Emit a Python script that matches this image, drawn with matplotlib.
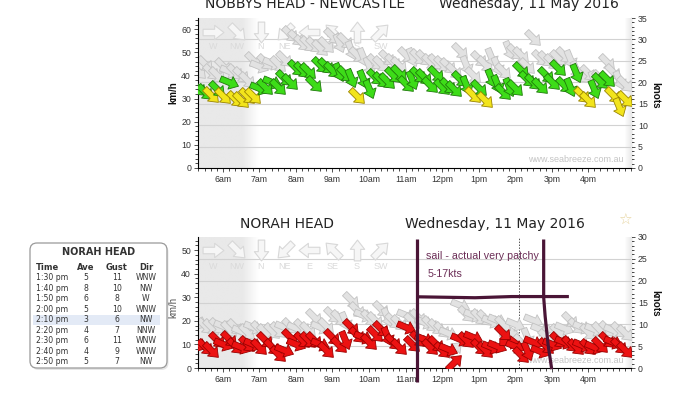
import numpy as np
import matplotlib.pyplot as plt
import matplotlib.ticker as mticker
from matplotlib.markers import MarkerStyle
from matplotlib.path import Path
from matplotlib.transforms import Affine2D
from matplotlib.patches import FancyBboxPatch, Rectangle
from matplotlib.colors import LinearSegmentedColormap

KN = 1.852  # km/h per knot

# readings every 10 minutes, 5:20 am to 5:00 pm
first_reading = 5 + 20 / 60
n_readings = 71
times = first_reading + np.arange(n_readings) / 6

# Nobbys Head - Newcastle (km/h)
nobbys_avg = [34.5, 33, 31.5, 34, 31, 37, 30, 29.5, 31, 31,
              34.5, 35, 37, 35, 39, 37, 43, 42.5, 42, 36.5,
              44.5, 44, 42.5, 41.5, 40.5, 39, 31, 38.5, 34, 39.5,
              38, 37.5, 40, 41, 36.5, 38, 40, 39.5, 36, 40.5,
              35, 35.5, 34, 38.5, 36, 31.5, 34.5, 29.5, 39, 36.5,
              33, 35, 34.5, 42.5, 38.5, 37, 35.5, 40, 37, 43,
              36, 35, 41, 31.5, 29.5, 34, 37.5, 38.5, 31.5, 26.5,
              30]
nobbys_gust = [42, 45, 41.5, 40, 44, 42, 41.5, 40, 38, 46.5,
               44, 46, 45.5, 45, 47, 58, 56, 54, 53.5, 53,
               52, 53, 57, 54, 55, 51, 49, 48, 44, 46,
               45, 47.5, 46, 44.5, 49, 48, 48, 47.5, 46, 46,
               45, 44, 42, 50.5, 44.5, 40, 47, 45, 48, 44,
               42, 51, 50, 49, 44, 56, 47.5, 47, 46, 47.5,
               49, 47, 42.5, 40, 41, 38, 39, 46, 41.5, 38,
               36.5]
nobbys_dir = ('NW NW NW NW NW WNW NW NW NW NW '
              'WNW NW WNW NW NW NW NW NW NW NW '
              'NW NW NW NNW NW NNW NW NNW NNW NW '
              'NW NW NW NW NW NNW NW NW NW NW '
              'NW NW NW NW NNW NW NW NW NNW NNW '
              'NW NNW NW NW NW NW NW NW NW NW '
              'NW NNW NNW NW NW NNW NW NW NW NNW '
              'NW').split()

# Norah Head (km/h)
norah_avg = [10.3, 9, 7.5, 11.8, 10.3, 12.5, 9.5, 9, 10.3, 10.3,
             9, 11.8, 9, 6, 7.5, 13.2, 10.3, 11.8, 11.8, 11.8,
             10.3, 7.5, 13.2, 9.6, 11.8, 17.4, 14, 13.2, 11, 14.6,
             16.7, 13.5, 11, 8.9, 17.4, 10.3, 12.5, 12.5, 8.9, 10.3,
             7.5, 8.2, 2.5, 12.5, 11.8, 13.2, 8.9, 7.5, 8.9, 9.3,
             14.8, 11.1, 9.3, 5.6, 7.4, 11.1, 7.4, 9.3, 10.3, 11.8,
             11, 10.3, 8.9, 9.6, 9, 8.9, 9.6, 11.8, 11, 9.5,
             7.5]
norah_gust = [19.5, 18, 17.4, 18, 18, 16.5, 17.4, 15.5, 15.3, 17.4,
              16.5, 15.3, 15.5, 16, 17.4, 18, 17, 17.4, 16, 21.7,
              17.4, 18, 22.4, 21, 20, 28.8, 24.5, 22.4, 21, 20.3,
              25.2, 21.7, 20, 19, 22.4, 20, 21.7, 19.5, 18.8, 17.4,
              16, 15, 8, 26.6, 23, 22.4, 21.7, 21, 20, 20.4,
              18.5, 14.8, 18.5, 11.1, 13, 20.4, 16.7, 13, 16, 15.3,
              17, 20.3, 18, 17.4, 15.3, 16.7, 16, 16.7, 16, 16,
              15]
norah_dir = ('WNW NW NW NW WNW NW NW WNW NW WNW '
             'NW NW NW NW WNW NW WNW NW NW NW '
             'WNW NW NW NW NNW NW NW WNW NW NW '
             'NW NNW NW NW WNW NW NW WNW NW NW '
             'NW WNW SW WNW NW WNW NW NW WNW WNW '
             'NW W WNW NW NNW WNW WNW NW WNW NW '
             'WNW NW NW WNW NW WNW NW NW WNW NW '
             'NW').split()

# hover table (knots)
table_time = ['1:30 pm', '1:40 pm', '1:50 pm', '2:00 pm', '2:10 pm',
              '2:20 pm', '2:30 pm', '2:40 pm', '2:50 pm']
table_ave = [5, 8, 6, 5, 3, 4, 6, 4, 5]
table_gust = [11, 10, 8, 10, 6, 7, 11, 9, 7]
table_dir = ['WNW', 'NW', 'W', 'WNW', 'NW', 'NNW', 'WNW', 'WNW', 'NW']
hover_row = 4
hover_time = 14.1

legend_dirs = ['W', 'NW', 'N', 'NE', 'E', 'SE', 'S', 'SW']
hour_ticks = list(range(6, 17))
hour_labels = ['6am', '7am', '8am', '9am', '10am', '11am', '12pm',
               '1pm', '2pm', '3pm', '4pm']

# hand drawn notes on the Norah Head chart (hours, km/h)
note_left_x = [11.31, 11.31]
note_left_y = [54.5, -6]
note_right_x = [14.78, 14.78, 14.82, 14.9, 15.0]
note_right_y = [54.5, 30, 22, 10, -0.5]
note_bar_x = [11.31, 12.9, 13.9, 15.47]
note_bar_y = [30.2, 29.8, 30.3, 30.3]

COMPASS = {name: i * 22.5 for i, name in enumerate(
    'N NNE NE ENE E ESE SE SSE S SSW SW WSW W WNW NW NNW'.split())}
ARROW = Path([(-0.9, -0.28), (0.1, -0.28), (0.1, -0.62), (0.9, 0),
              (0.1, 0.62), (0.1, 0.28), (-0.9, 0.28), (-0.9, -0.28)], closed=True)

plt.rcParams['font.family'] = ['Liberation Sans', 'DejaVu Sans']


def arrow_marker(d):
    # arrow points where the wind blows to
    ang = 90 - (COMPASS[d] + 180)
    return MarkerStyle(ARROW, transform=Affine2D().rotate_deg(ang))


def draw_arrows(ax, t, v, dirs, faces, edges, size, z):
    for ti, vi, d, fc, ec in zip(t, v, dirs, faces, edges):
        ax.plot(ti, vi, ls='none', marker=arrow_marker(d), ms=size,
                mfc=fc, mec=ec, mew=0.6, zorder=z)


def setup(ax, top_knots, legend_y, label_y):
    x0, x1 = 5.32, 17.17
    ymax = top_knots * KN
    ax.set_facecolor('white')
    for s in ['top', 'right']:
        ax.spines[s].set_visible(False)
    for s in ['left', 'bottom']:
        ax.spines[s].set_linewidth(0.8)
    ax.set_xticks(hour_ticks, hour_labels)
    ax.xaxis.set_minor_locator(mticker.MultipleLocator(1 / 6))
    ax.yaxis.set_major_locator(mticker.MultipleLocator(10))
    ax.yaxis.set_minor_locator(mticker.MultipleLocator(2))
    ax.tick_params(labelsize=6.3, colors='#333333', length=3, width=0.6, pad=2)
    ax.tick_params(which='minor', length=2, width=0.5)
    sec = ax.secondary_yaxis('right', functions=(lambda v: v / KN, lambda v: v * KN))
    sec.yaxis.set_major_locator(mticker.MultipleLocator(5))
    sec.yaxis.set_minor_locator(mticker.MultipleLocator(1))
    sec.tick_params(labelsize=6.3, colors='#333333', length=3, width=0.6, pad=2)
    sec.tick_params(which='minor', length=2, width=0.5)
    sec.spines['right'].set_linewidth(0.8)
    for k in range(5, top_knots, 5):
        ax.axhline(k * KN, color='#d2d2d2', lw=0.8, zorder=0.6)

    # night shading
    fade = LinearSegmentedColormap.from_list('fade', ['white', '#e9e9e9'])
    left = np.r_[np.ones(16), np.linspace(1, 0, 7)][None, :]
    ax.imshow(left, cmap=fade, vmin=0, vmax=1, extent=(x0, 7.0, 0, ymax),
              aspect='auto', zorder=0.1, interpolation='bilinear')
    right = np.linspace(0, 1, 6)[None, :]
    ax.imshow(right, cmap=fade, vmin=0, vmax=1, extent=(16.97, x1, 0, ymax),
              aspect='auto', zorder=0.1, interpolation='bilinear')

    # direction legend
    for i, d in enumerate(legend_dirs):
        lx = 0.035 + i * 0.0552
        ax.plot(lx, legend_y, transform=ax.transAxes, ls='none',
                marker=arrow_marker(d), ms=15, mfc='#f6f6f6', mec='#d8d8d8',
                mew=0.8, zorder=0.7)
        ax.text(lx, label_y, d, transform=ax.transAxes, ha='center', va='center',
                fontsize=6.5, color='#dadada', zorder=0.7)

    ax.text(0.982, 0.055, 'www.seabreeze.com.au', transform=ax.transAxes,
            ha='right', va='center', fontsize=6.5, color='#c4c4c4', zorder=0.7)
    ax.set_xlim(x0, x1)
    ax.set_ylim(0, ymax)


fig = plt.figure(figsize=(7, 3.94), dpi=100)
fig.patch.set_facecolor('white')

# top chart: Nobbys Head
ax1 = fig.add_axes([198 / 700, 1 - 168 / 394, 433 / 700, 150 / 394])
setup(ax1, 35, 0.909, 0.81)
draw_arrows(ax1, times, nobbys_gust, nobbys_dir, ['#e2e2e2'] * n_readings,
            ['#c2c2c2'] * n_readings, 14, 2)
top_face = ['#3ddc18' if v >= 32 else '#f2e41c' for v in nobbys_avg]
top_edge = ['#1e7a0a' if v >= 32 else '#9a8400' for v in nobbys_avg]
draw_arrows(ax1, times, nobbys_avg, nobbys_dir, top_face, top_edge, 14, 3)

# bottom chart: Norah Head
ax2 = fig.add_axes([198 / 700, 1 - 368 / 394, 433 / 700, 131 / 394])
setup(ax2, 30, 0.90, 0.773)
ax2.axvline(hover_time, color='#555555', lw=0.7, ls=(0, (1.5, 1.5)), zorder=1)
draw_arrows(ax2, times, norah_gust, norah_dir, ['#e2e2e2'] * n_readings,
            ['#c2c2c2'] * n_readings, 14, 2)
draw_arrows(ax2, times, norah_avg, norah_dir, ['#ec1212'] * n_readings,
            ['#9a0000'] * n_readings, 14, 3)

note_col = '#4a1536'
for xs, ys in [(note_left_x, note_left_y), (note_right_x, note_right_y),
               (note_bar_x, note_bar_y)]:
    ax2.plot(xs, ys, color=note_col, lw=2.3, solid_capstyle='butt',
             clip_on=False, zorder=6)
ax2.text(11.55, 47.5, 'sail - actual very patchy', fontsize=7.7,
         color='#6b2d56', va='center', zorder=6)
ax2.text(11.6, 39.7, '5-17kts', fontsize=7.7, color='#6b2d56', va='center', zorder=6)

# overlay in pixel units for titles, labels and the table
lay = fig.add_axes([0, 0, 1, 1])
lay.set_xlim(0, 700)
lay.set_ylim(394, 0)
lay.axis('off')

lay.text(305, 8, 'NOBBYS HEAD - NEWCASTLE', ha='center', va='baseline',
         fontsize=10, family='DejaVu Sans', color='#222222')
lay.text(529, 8, 'Wednesday, 11 May 2016', ha='center', va='baseline',
         fontsize=10, family='DejaVu Sans', color='#222222')
lay.text(287, 228, 'NORAH HEAD', ha='center', va='baseline',
         fontsize=10, family='DejaVu Sans', color='#222222')
lay.text(495, 228, 'Wednesday, 11 May 2016', ha='center', va='baseline',
         fontsize=10, family='DejaVu Sans', color='#222222')
lay.text(625, 220, '\u2606', ha='center', va='center', fontsize=11,
         family='DejaVu Sans', color='#e6d39c')

lay.text(173, 93, 'km/h', rotation=90, ha='center', va='center',
         fontsize=7, fontweight='bold', color='#111111')
lay.text(173, 307, 'km/h', rotation=90, ha='center', va='center',
         fontsize=7, color='#555555')
lay.text(655, 95, 'knots', rotation=270, ha='center', va='center',
         fontsize=7.2, fontweight='bold', color='#111111')
lay.text(655, 303, 'knots', rotation=270, ha='center', va='center',
         fontsize=7.2, fontweight='bold', color='#111111')

# hover table
lay.add_patch(FancyBboxPatch((31.5, 245), 137, 125, boxstyle='round,pad=0,rounding_size=7',
                             fc='#e6e6e6', ec='none', zorder=1))
lay.add_patch(FancyBboxPatch((30, 243), 137, 125, boxstyle='round,pad=0,rounding_size=7',
                             fc='white', ec='#9a9a9a', lw=0.9, zorder=2))
row_y = [277.7 + i * 10.5 for i in range(len(table_time))]
lay.add_patch(Rectangle((33, row_y[hover_row] - 5.2), 127, 10.4, fc='#e3eaf6',
                        ec='none', zorder=3))
tf = dict(family='DejaVu Sans', color='#333333', zorder=4, va='center')
lay.text(98.5, 252, 'NORAH HEAD', ha='center', fontsize=7, fontweight='bold', **tf)
for hx, h, ha in [(36, 'Time', 'left'), (86, 'Ave', 'center'),
                  (117, 'Gust', 'center'), (146, 'Dir', 'center')]:
    lay.text(hx, 267, h, ha=ha, fontsize=6, fontweight='bold', **tf)
for y, tm, a, g, d in zip(row_y, table_time, table_ave, table_gust, table_dir):
    lay.text(36, y, tm, ha='left', fontsize=5.6, **tf)
    lay.text(86, y, str(a), ha='center', fontsize=5.6, **tf)
    lay.text(117, y, str(g), ha='center', fontsize=5.6, **tf)
    lay.text(146, y, d, ha='center', fontsize=5.6, **tf)

fig.savefig('out.png', dpi=100)
